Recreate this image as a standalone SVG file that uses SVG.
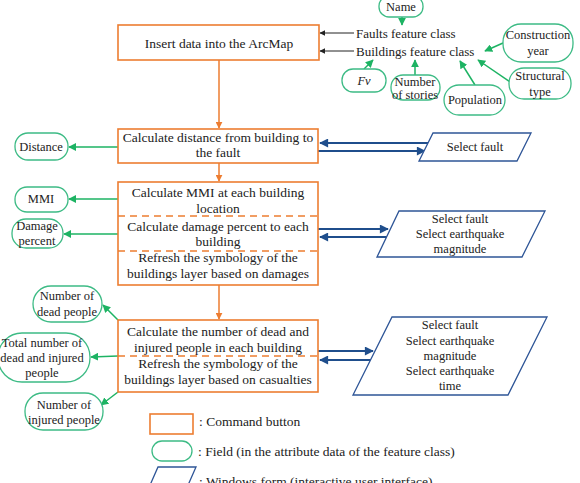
<svg xmlns="http://www.w3.org/2000/svg" width="580" height="483" viewBox="0 0 580 483" font-family="'Liberation Serif', 'Times New Roman', serif">
<defs>
<style>
text{font-family:"Liberation Serif","Times New Roman",serif;fill:#222;}
.bt{font-size:13.5px;text-anchor:middle;}
.ft{font-size:12.5px;text-anchor:middle;}
.lt{font-size:13.5px;}
.cmd{fill:#fff;stroke:#ED7D31;stroke-width:1.6;}
.fld{fill:#fff;stroke:#3DBB85;stroke-width:1.3;}
.win{fill:#fff;stroke:#2E5597;stroke-width:1.3;}
.dash{stroke:#ED7D31;stroke-width:1.6;stroke-dasharray:7,5;fill:none;}
.oa{stroke:#ED7D31;stroke-width:1.5;fill:none;marker-end:url(#mo);}
.ga{stroke:#1DB363;stroke-width:1.5;fill:none;marker-end:url(#mg);}
.ba{stroke:#1F4E8C;stroke-width:2;fill:none;marker-end:url(#mb);}
.ka{stroke:#222;stroke-width:1;fill:none;marker-end:url(#mk);}
</style>
<marker id="mo" viewBox="0 0 10 10" refX="9" refY="5" markerWidth="7" markerHeight="7" markerUnits="userSpaceOnUse" orient="auto"><path d="M0,0 L10,5 L0,10 z" fill="#ED7D31"/></marker>
<marker id="mg" viewBox="0 0 10 10" refX="9" refY="5" markerWidth="8" markerHeight="8" markerUnits="userSpaceOnUse" orient="auto"><path d="M0,0 L10,5 L0,10 z" fill="#1DB363"/></marker>
<marker id="mb" viewBox="0 0 10 10" refX="9" refY="5" markerWidth="10" markerHeight="9" markerUnits="userSpaceOnUse" orient="auto"><path d="M0,0 L10,5 L0,10 z" fill="#1F4E8C"/></marker>
<marker id="mk" viewBox="0 0 10 10" refX="9" refY="5" markerWidth="6" markerHeight="6" markerUnits="userSpaceOnUse" orient="auto"><path d="M0,0 L10,5 L0,10 z" fill="#222"/></marker>
</defs>
<rect width="580" height="483" fill="#fff"/>

<g id="connectors">
<line class="oa" x1="219" y1="60" x2="219" y2="128"/>
<line class="oa" x1="219" y1="163" x2="219" y2="181"/>
<line class="oa" x1="219" y1="285" x2="219" y2="319"/>
<line class="ka" x1="354" y1="33" x2="320" y2="33"/>
<line class="ka" x1="354" y1="51" x2="320" y2="51"/>
<line class="ga" x1="402" y1="17" x2="402" y2="25"/>
<line class="ga" x1="503" y1="43" x2="485" y2="51"/>
<line class="ga" x1="364" y1="69" x2="373" y2="60"/>
<line class="ga" x1="415" y1="75" x2="415" y2="60"/>
<line class="ga" x1="475" y1="85" x2="460" y2="61"/>
<line class="ga" x1="510" y1="82" x2="478" y2="60"/>
<line class="ga" x1="118" y1="147" x2="69" y2="147"/>
<line class="ga" x1="118" y1="199" x2="69" y2="199"/>
<line class="ga" x1="118" y1="234" x2="64" y2="234"/>
<line class="ga" x1="118" y1="320" x2="103" y2="305"/>
<line class="ga" x1="118" y1="356" x2="91" y2="357"/>
<line class="ga" x1="118" y1="392" x2="101" y2="405"/>
<line class="ba" x1="428" y1="143" x2="320" y2="143"/>
<line class="ba" x1="318" y1="151" x2="425" y2="151"/>
<line class="ba" x1="318" y1="229" x2="388" y2="229"/>
<line class="ba" x1="389" y1="237" x2="320" y2="237"/>
<line class="ba" x1="318" y1="351" x2="373" y2="351"/>
<line class="ba" x1="374" y1="360" x2="320" y2="360"/>
</g>

<g id="insert-data">
<rect class="cmd" x="118" y="25" width="201" height="35"/>
<text class="bt" x="219" y="48">Insert data into the ArcMap</text>
</g>
<g id="feature-classes">
<text class="lt" x="356" y="38" style="font-size:13px">Faults feature class</text>
<text class="lt" x="356" y="56" style="font-size:13px">Buildings feature class</text>
</g>
<g id="f-name"><rect class="fld" x="379" y="-4" width="44" height="21" rx="10"/><text class="ft" x="401" y="11">Name</text></g>
<g id="f-construction"><rect class="fld" x="503" y="24" width="70" height="38" rx="18"/><text class="ft" x="538" y="39">Construction</text><text class="ft" x="538" y="55">year</text></g>
<g id="f-fv"><rect class="fld" x="342" y="69" width="44" height="23" rx="11"/><text class="ft" x="364" y="85" style="font-style:italic">Fv</text></g>
<g id="f-stories"><rect class="fld" x="391" y="75" width="49" height="25" rx="12"/><text class="ft" x="415" y="86">Number</text><text class="ft" x="415" y="99">of stories</text></g>
<g id="f-population"><rect class="fld" x="444" y="85" width="61" height="30" rx="15"/><text class="ft" x="475" y="104">Population</text></g>
<g id="f-structural"><rect class="fld" x="509" y="68" width="62" height="31" rx="15"/><text class="ft" x="540" y="80">Structural</text><text class="ft" x="540" y="96">type</text></g>

<g id="calc-distance">
<rect class="cmd" x="118" y="129" width="200" height="34"/>
<text class="bt" x="218" y="142">Calculate distance from building to</text>
<text class="bt" x="218" y="157">the fault</text>
</g>
<g id="f-distance"><rect class="fld" x="15" y="133" width="53" height="27" rx="13"/><text class="ft" x="41" y="151">Distance</text></g>
<g id="w-fault"><polygon class="win" points="433,133 531,133 517,161 419,161"/><text class="ft" x="475" y="151">Select fault</text></g>

<g id="calc-mmi-damage">
<rect class="cmd" x="118" y="182" width="200" height="103"/>
<line class="dash" x1="118" y1="216" x2="318" y2="216"/>
<line class="dash" x1="118" y1="251" x2="318" y2="251"/>
<text class="bt" x="218" y="197">Calculate MMI at each building</text>
<text class="bt" x="218" y="213">location</text>
<text class="bt" x="218" y="231">Calculate damage percent to each</text>
<text class="bt" x="218" y="246">building</text>
<text class="bt" x="218" y="262">Refresh the symbology of the</text>
<text class="bt" x="218" y="278">buildings layer based on damages</text>
</g>
<g id="f-mmi"><rect class="fld" x="15" y="187" width="53" height="25" rx="12"/><text class="ft" x="41" y="203">MMI</text></g>
<g id="f-damage"><rect class="fld" x="12" y="219" width="51" height="29" rx="14"/><text class="ft" x="37" y="230">Damage</text><text class="ft" x="37" y="245">percent</text></g>
<g id="w-fault-mag"><polygon class="win" points="399,211 545,211 522,257 377,257"/><text class="ft" x="460" y="223">Select fault</text><text class="ft" x="460" y="238">Select earthquake</text><text class="ft" x="460" y="253">magnitude</text></g>

<g id="calc-casualties">
<rect class="cmd" x="118" y="320" width="200" height="72"/>
<line class="dash" x1="118" y1="356" x2="318" y2="356"/>
<text class="bt" x="218" y="336">Calculate the number of dead and</text>
<text class="bt" x="218" y="352">injured people in each building</text>
<text class="bt" x="218" y="368">Refresh the symbology of the</text>
<text class="bt" x="218" y="384">buildings layer based on casualties</text>
</g>
<g id="f-dead"><rect class="fld" x="33" y="286" width="69" height="36" rx="18"/><text class="ft" x="67" y="300">Number of</text><text class="ft" x="67" y="316">dead people</text></g>
<g id="f-total"><rect class="fld" x="-2" y="333" width="92" height="49" rx="24"/><text class="ft" x="42" y="347">Total number of</text><text class="ft" x="42" y="362">dead and injured</text><text class="ft" x="42" y="377">people</text></g>
<g id="f-injured"><rect class="fld" x="25" y="393" width="78" height="37" rx="18"/><text class="ft" x="64" y="409">Number of</text><text class="ft" x="64" y="424">injured people</text></g>
<g id="w-fault-mag-time"><polygon class="win" points="392,317 547,317 508,395 353,395"/><text class="ft" x="450" y="329">Select fault</text><text class="ft" x="450" y="345">Select earthquake</text><text class="ft" x="450" y="360">magnitude</text><text class="ft" x="450" y="375">Select earthquake</text><text class="ft" x="450" y="390">time</text></g>

<g id="legend">
<rect class="cmd" x="150" y="414" width="43" height="20"/>
<text class="lt" x="199" y="426">: Command button</text>
<rect class="fld" x="152" y="441" width="40" height="20" rx="10"/>
<text class="lt" x="198" y="456">: Field (in the attribute data of the feature class)</text>
<polygon class="win" points="158,467 196,467 185,492 147,492"/>
<text class="lt" x="199" y="486">: Windows form (interactive user interface)</text>
</g>
</svg>
